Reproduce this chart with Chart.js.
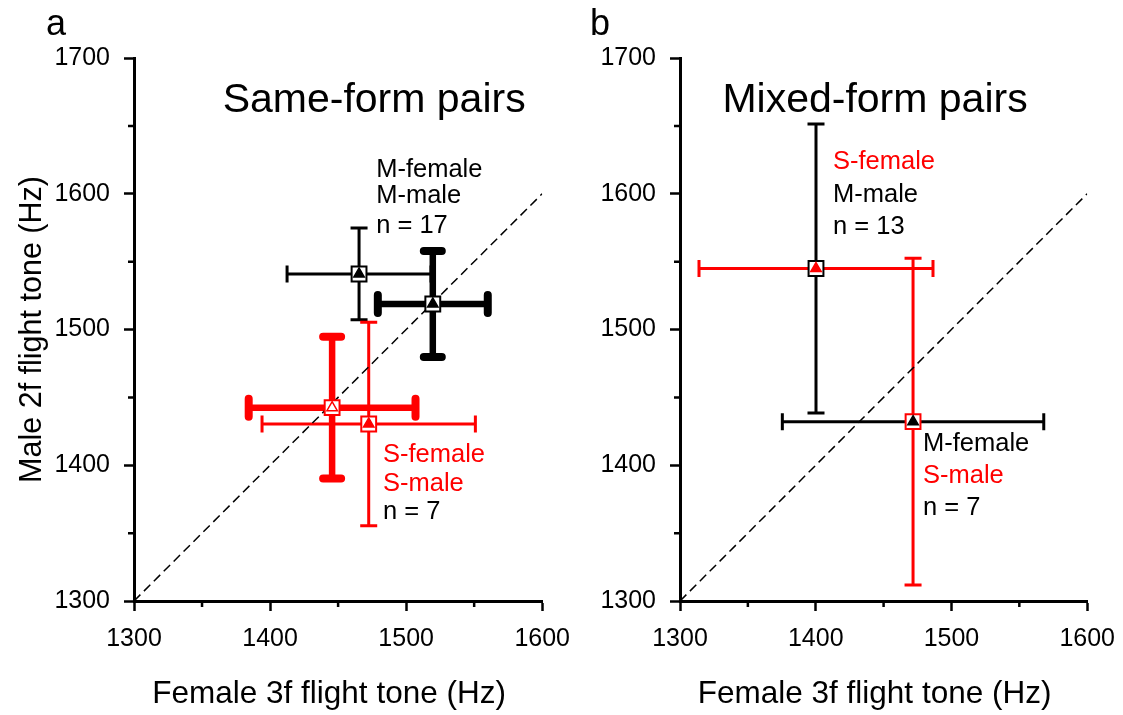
<!DOCTYPE html>
<html>
<head>
<meta charset="utf-8">
<script src="https://cdn.jsdelivr.net/npm/chart.js@4.4.1/dist/chart.umd.min.js"></script>
<style>
  body { margin: 0; background: #fff; }
  #wrap { position: relative; width: 1123px; height: 715px; overflow: hidden; }
  canvas { position: absolute; top: 0; }
  #chartA { left: 0; }
  #chartB { left: 546px; }
</style>
</head>
<body>
<div id="wrap">
  <canvas id="chartA" width="583" height="715"></canvas>
  <canvas id="chartB" width="582" height="715"></canvas>
</div>
<script>
// ---- data (Hz) ----
const xTicks = [1300, 1400, 1500, 1600];
const yTicks = [1300, 1400, 1500, 1600, 1700];
const diagonal = [1300, 1600];

// panel a, same-form pairs: M/M thin, M/M thick, S/S thick, S/S thin
const sameX = [1465.4, 1519.6, 1445.6, 1472.5];
const sameY = [1540.9, 1518.8, 1442.4, 1430.4];
const sameXErr = [52.9, 40.4, 61.3, 78.4];
const sameYErr = [33.8, 39.0, 52.2, 74.9];

// panel b, mixed-form pairs: S-female/M-male, M-female/S-male
const mixedX = [1400.2, 1471.7];
const mixedY = [1544.9, 1432.1];
const mixedXErr = [86.2, 96.3];
const mixedYErr = [106.4, 120.4];

const sameNotes = [
  { text: 'M-female', x: 1478, y: 1617.5, color: '#000' },
  { text: 'M-male', x: 1478, y: 1598.3, color: '#000' },
  { text: 'n = 17', x: 1478, y: 1576, color: '#000' },
  { text: 'S-female', x: 1483, y: 1407.5, color: '#f00' },
  { text: 'S-male', x: 1483, y: 1386, color: '#f00' },
  { text: 'n = 7', x: 1483, y: 1365.6, color: '#000' }
];
const mixedNotes = [
  { text: 'S-female', x: 1412.7, y: 1623.4, color: '#f00' },
  { text: 'M-male', x: 1412.7, y: 1599, color: '#000' },
  { text: 'n = 13', x: 1412.7, y: 1575.5, color: '#000' },
  { text: 'M-female', x: 1479, y: 1415.7, color: '#000' },
  { text: 'S-male', x: 1479, y: 1392, color: '#f00' },
  { text: 'n = 7', x: 1479, y: 1368.5, color: '#000' }
];

// styles (kept apart from the values)
const RED = '#ff0000', BLACK = '#000000';
const sameStyle = [
  { xColor: BLACK, yColor: BLACK, width: 3, capW: 3, cap: 17, round: false, sq: BLACK, tri: BLACK, triFill: BLACK },
  { xColor: BLACK, yColor: BLACK, width: 6.5, capW: 8, cap: 18, round: true, sq: BLACK, tri: BLACK, triFill: BLACK },
  { xColor: RED, yColor: RED, width: 6.5, capW: 8, cap: 18, round: true, sq: RED, tri: RED, triFill: '#fff' },
  { xColor: RED, yColor: RED, width: 3, capW: 3, cap: 17, round: false, sq: RED, tri: RED, triFill: RED }
];
const mixedStyle = [
  { xColor: RED, yColor: BLACK, width: 3, capW: 3, cap: 17, round: false, sq: BLACK, tri: RED, triFill: RED },
  { xColor: BLACK, yColor: RED, width: 3, capW: 3, cap: 17, round: false, sq: RED, tri: BLACK, triFill: BLACK }
];

const FONT = "'Liberation Sans', Arial, sans-serif";

const errorBars = {
  id: 'errorBars',
  beforeDatasetsDraw(chart, args, opts) {
    const { ctx } = chart;
    const xs = chart.scales.x, ys = chart.scales.y;
    ctx.save();
    opts.xs.forEach((v, i) => {
      const st = opts.style[i];
      const px = xs.getPixelForValue(v), py = ys.getPixelForValue(opts.ys[i]);
      const x0 = xs.getPixelForValue(v - opts.xErr[i]), x1 = xs.getPixelForValue(v + opts.xErr[i]);
      const y0 = ys.getPixelForValue(opts.ys[i] - opts.yErr[i]), y1 = ys.getPixelForValue(opts.ys[i] + opts.yErr[i]);
      const h = st.cap / 2;
      // horizontal bar
      ctx.strokeStyle = st.xColor;
      ctx.lineCap = 'butt';
      ctx.lineWidth = st.width;
      ctx.beginPath(); ctx.moveTo(x0, py); ctx.lineTo(x1, py); ctx.stroke();
      ctx.lineCap = st.round ? 'round' : 'butt';
      ctx.lineWidth = st.capW;
      ctx.beginPath();
      ctx.moveTo(x0, py - h); ctx.lineTo(x0, py + h);
      ctx.moveTo(x1, py - h); ctx.lineTo(x1, py + h);
      ctx.stroke();
      // vertical bar
      ctx.strokeStyle = st.yColor;
      ctx.lineCap = 'butt';
      ctx.lineWidth = st.width;
      ctx.beginPath(); ctx.moveTo(px, y0); ctx.lineTo(px, y1); ctx.stroke();
      ctx.lineCap = st.round ? 'round' : 'butt';
      ctx.lineWidth = st.capW;
      ctx.beginPath();
      ctx.moveTo(px - h, y0); ctx.lineTo(px + h, y0);
      ctx.moveTo(px - h, y1); ctx.lineTo(px + h, y1);
      ctx.stroke();
    });
    ctx.restore();
  }
};

// minor ticks (every 50 Hz, shorter), x title and text on the plot
const extras = {
  id: 'extras',
  afterDraw(chart, args, opts) {
    const { ctx } = chart;
    const xs = chart.scales.x, ys = chart.scales.y;
    ctx.save();
    ctx.strokeStyle = '#000';
    ctx.lineWidth = 2.5;
    ctx.beginPath();
    for (let v = xs.min + 50; v < xs.max; v += 100) {
      const p = xs.getPixelForValue(v);
      ctx.moveTo(p, xs.top); ctx.lineTo(p, xs.top + 6);
    }
    for (let v = ys.min + 50; v < ys.max; v += 100) {
      const p = ys.getPixelForValue(v);
      ctx.moveTo(ys.right, p); ctx.lineTo(ys.right - 6, p);
    }
    ctx.stroke();

    ctx.textBaseline = 'middle';
    ctx.textAlign = 'left';
    ctx.font = '25.5px ' + FONT;
    opts.notes.forEach(n => {
      ctx.fillStyle = n.color;
      ctx.fillText(n.text, xs.getPixelForValue(n.x), ys.getPixelForValue(n.y));
    });
    ctx.fillStyle = '#000';
    ctx.textAlign = 'center';
    ctx.font = '41px ' + FONT;
    ctx.fillText(opts.title, xs.getPixelForValue(opts.titleX), ys.getPixelForValue(opts.titleY));
    // x axis title sits a little left of the axis centre in the original
    ctx.font = '31.5px ' + FONT;
    ctx.fillText('Female 3f flight tone (Hz)', (xs.left + xs.right) / 2 - 9, 694);
    ctx.font = '36px ' + FONT;
    ctx.fillText(opts.letter, opts.letterX, 25);
    ctx.restore();
  }
};

function makePanel(id, xv, yv, xe, ye, style, notes, title, titleX, letter, letterX, showYTitle) {
  const pts = xv.map((v, i) => ({ x: v, y: yv[i] }));
  return new Chart(document.getElementById(id), {
    type: 'scatter',
    data: {
      datasets: [
        {
          label: 'triangles',
          data: pts,
          order: 0,
          pointStyle: 'triangle',
          pointRadius: 6,
          pointBackgroundColor: style.map(s => s.triFill),
          pointBorderColor: style.map(s => s.tri),
          pointBorderWidth: 1.5
        },
        {
          label: 'squares',
          data: pts,
          order: 1,
          pointStyle: 'rect',
          pointRadius: 10.5,
          pointBackgroundColor: '#ffffff',
          pointBorderColor: style.map(s => s.sq),
          pointBorderWidth: 2
        },
        {
          type: 'line',
          label: 'y = x',
          data: diagonal.map(v => ({ x: v, y: v })),
          order: 2,
          borderColor: '#000',
          borderWidth: 1.5,
          borderDash: [9, 5],
          pointRadius: 0,
          fill: false
        }
      ]
    },
    options: {
      responsive: false,
      animation: false,
      devicePixelRatio: 1,
      // right margin comes from the last x tick label (half width + padding)
      layout: { padding: { left: 0, right: 0, top: 58, bottom: 0 } },
      scales: {
        x: {
          type: 'linear',
          min: 1300, max: 1600,
          afterFit: s => { s.height = 114; },
          border: { display: true, color: '#000', width: 3 },
          grid: {
            drawOnChartArea: false, drawTicks: true, tickLength: 10, tickWidth: 2.5,
            tickColor: c => (c.tick && xTicks.includes(c.tick.value)) ? '#000' : 'rgba(0,0,0,0)'
          },
          ticks: {
            stepSize: 50, padding: 13, color: '#000', maxRotation: 0, autoSkip: false,
            font: { family: FONT, size: 25 },
            callback: v => xTicks.includes(v) ? String(v) : ''
          },
          title: { display: false }
        },
        y: {
          type: 'linear',
          min: 1300, max: 1700,
          afterFit: s => { s.width = 134; },
          border: { display: true, color: '#000', width: 3 },
          grid: {
            drawOnChartArea: false, drawTicks: true, tickLength: 10, tickWidth: 2.5,
            tickColor: c => (c.tick && yTicks.includes(c.tick.value)) ? '#000' : 'rgba(0,0,0,0)'
          },
          ticks: {
            stepSize: 50, padding: 14, color: '#000', autoSkip: false,
            font: { family: FONT, size: 25 },
            callback: v => yTicks.includes(v) ? String(v) : ''
          },
          title: {
            display: showYTitle, text: 'Male 2f flight tone (Hz)', color: '#000',
            font: { family: FONT, size: 30.5 }, padding: { top: 14, bottom: 0 }
          }
        }
      },
      plugins: {
        legend: { display: false },
        tooltip: { enabled: false },
        errorBars: { xs: xv, ys: yv, xErr: xe, yErr: ye, style: style },
        extras: { notes: notes, title: title, titleX: titleX, titleY: 1668.5, letter: letter, letterX: letterX }
      }
    },
    plugins: [errorBars, extras]
  });
}

makePanel('chartA', sameX, sameY, sameXErr, sameYErr, sameStyle, sameNotes,
  'Same-form pairs', 1476.5, 'a', 56, true);
makePanel('chartB', mixedX, mixedY, mixedXErr, mixedYErr, mixedStyle, mixedNotes,
  'Mixed-form pairs', 1443.7, 'b', 54, false);
</script>
</body>
</html>
